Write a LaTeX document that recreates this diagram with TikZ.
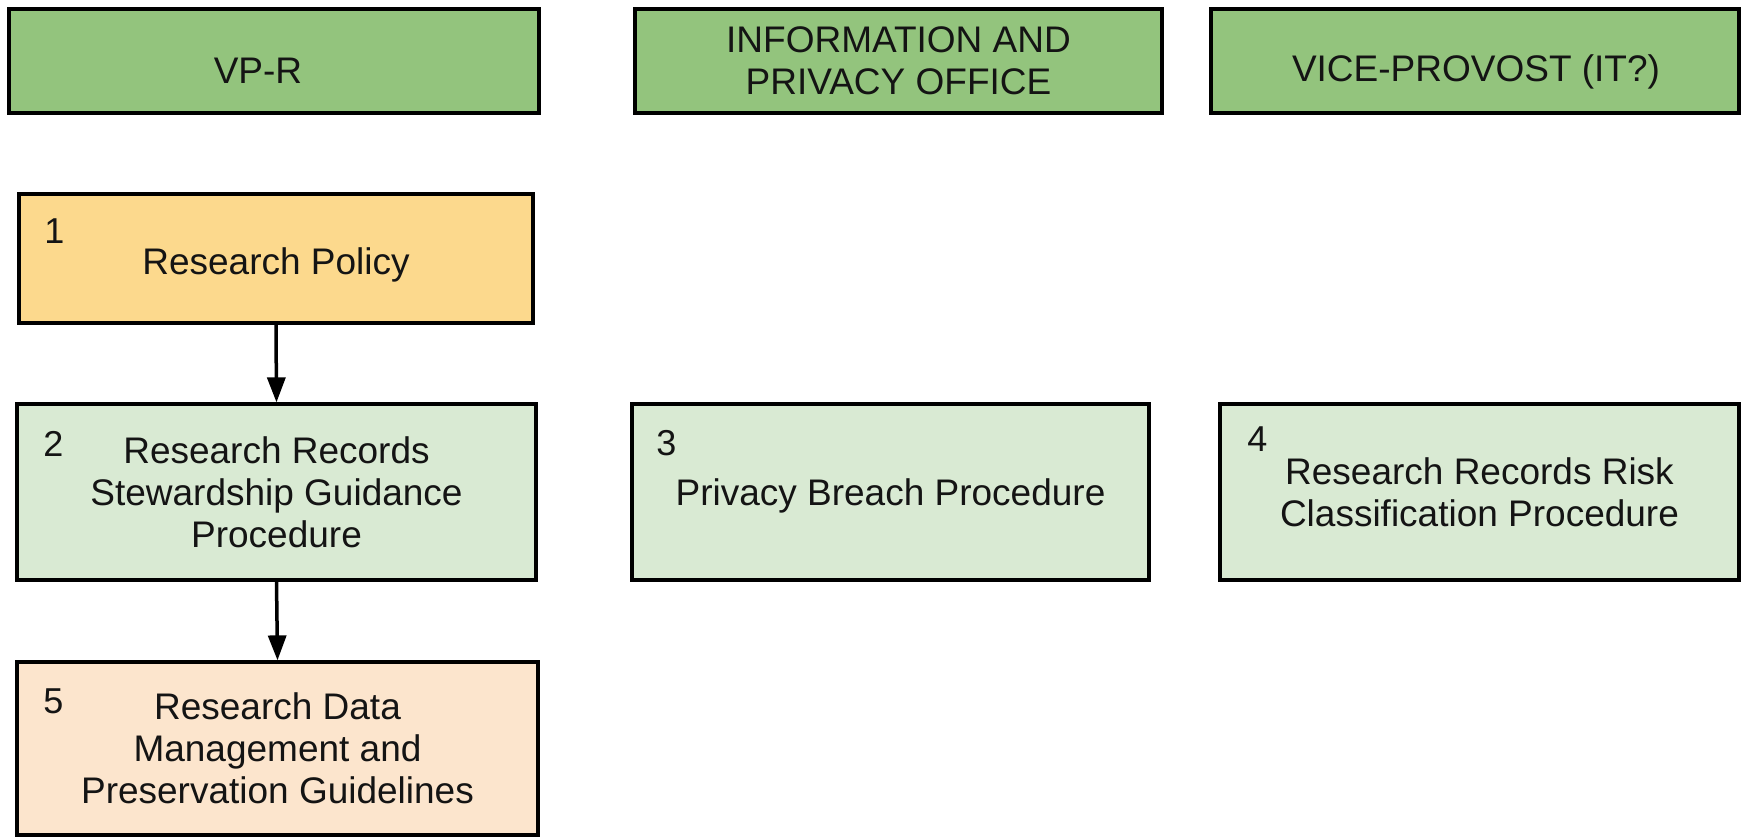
\documentclass[tikz,border=0pt]{standalone}
\usepackage{fontspec}
\setmainfont{Liberation Sans}
\usetikzlibrary{arrows.meta,calc}

\definecolor{hdrgreen}{HTML}{93C47D}
\definecolor{policyyellow}{HTML}{FCD98D}
\definecolor{procgreen}{HTML}{D9EAD3}
\definecolor{guideorange}{HTML}{FCE5CD}
\definecolor{ink}{HTML}{141414}

\begin{document}
\begin{tikzpicture}[x=1pt,y=-1pt,
  box/.style={draw=black,line width=3.2pt,rectangle,inner sep=0pt,
    font=\fontsize{37}{42}\selectfont,align=center,text=ink},
  header/.style={box,fill=hdrgreen,minimum height=104pt},
  label text/.style={inner sep=0pt,font=\fontsize{37}{42}\selectfont,text=ink,anchor=base},
  numtag/.style={font=\fontsize{36}{40}\selectfont,text=ink,inner sep=0pt},
  flow/.style={line width=3.5pt,-{Triangle[length=25pt,width=18pt]}}]

% page area
\fill[white] (0,0) rectangle (1741,837);
\useasboundingbox (0,0) rectangle (1741,837);

% column headers
\node[header,minimum width=530pt] (vpr) at (274,61) {};
\node[label text] (vprtext) at (258,84) {VP-R};
\node[header,minimum width=527pt] (ipo) at (898.5,61) {INFORMATION AND\\PRIVACY OFFICE};
\node[header,minimum width=528pt] (vpit) at (1475,61) {};
\node[label text] (vpittext) at (1476,82) {VICE-PROVOST (IT?)};

% documents
\node[box,fill=policyyellow,minimum width=514pt,minimum height=129pt] (b1) at (276,258.5) {};
\node[label text] (b1text) at (276,275) {Research Policy};
\node[box,fill=procgreen,minimum width=519pt,minimum height=176pt] (b2) at (276.5,492) {Research Records\\Stewardship Guidance\\Procedure};
\node[box,fill=procgreen,minimum width=517pt,minimum height=176pt] (b3) at (890.5,492) {};
\node[label text] (b3text) at (890.5,505) {Privacy Breach Procedure};
\node[box,fill=procgreen,minimum width=519pt,minimum height=176pt] (b4) at (1479.5,492) {Research Records Risk\\Classification Procedure};
\node[box,fill=guideorange,minimum width=521pt,minimum height=173pt] (b5) at (277.5,748.5) {Research Data\\Management and\\Preservation Guidelines};

% document numbers
\node[numtag] (n1) at ($(b1.north west)+(37,39)$) {1};
\node[numtag] (n2) at ($(b2.north west)+(38,42)$) {2};
\node[numtag] (n3) at ($(b3.north west)+(36,41)$) {3};
\node[numtag] (n4) at ($(b4.north west)+(39,37)$) {4};
\node[numtag] (n5) at ($(b5.north west)+(38,41)$) {5};

% hierarchy
\draw[flow] (b1.south) -- (b2.north);
\draw[flow] (b2.south) -- (b5.north);
\end{tikzpicture}
\end{document}
